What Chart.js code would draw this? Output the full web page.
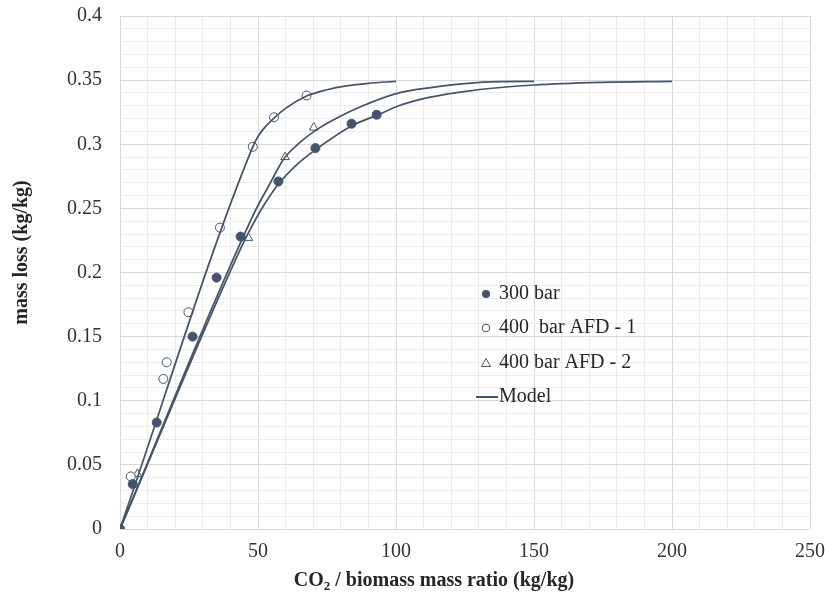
<!DOCTYPE html>
<html>
<head>
<meta charset="utf-8">
<script src="https://cdn.jsdelivr.net/npm/chart.js@4.4.1/dist/chart.umd.min.js"></script>
<style>
    body { margin: 0; background: #fff; }
    #wrap { width: 825px; height: 603px; position: relative; }
</style>
</head>
<body>
<div id="wrap"><canvas id="chart"></canvas></div>
<script>
// measured points
const x300 = [0, 4.6, 13.3, 26.3, 35.0, 43.7, 57.4, 70.8, 83.9, 93];
const y300 = [0, 0.035, 0.083, 0.150, 0.196, 0.228, 0.271, 0.297, 0.316, 0.323];

const xAfd1 = [0, 3.9, 15.7, 16.9, 24.8, 36.2, 48.1, 55.8, 67.6];
const yAfd1 = [0, 0.041, 0.117, 0.130, 0.169, 0.235, 0.298, 0.321, 0.338];

const xAfd2 = [0, 6.3, 46.5, 59.8, 70.2];
const yAfd2 = [0, 0.043, 0.227, 0.290, 0.313];

// model curves
const xModelA = [0, 48.1, 50, 52, 55.6, 60, 67.6, 75, 82, 90, 100];
const yModelA = [0, 0.298, 0.306, 0.312, 0.320, 0.328, 0.3376, 0.3425, 0.3455, 0.3475, 0.349];

const xModelB = [0, 48.3, 54, 59.5, 65, 71, 80, 88, 101, 112, 126, 138, 150];
const yModelB = [0, 0.245, 0.268, 0.289, 0.301, 0.311, 0.322, 0.330, 0.340, 0.344, 0.3475, 0.3488, 0.349];

const xModelC = [0, 44, 48, 52, 57.4, 64, 71, 84, 93, 101, 112, 126, 150, 174, 200];
const yModelC = [0, 0.220, 0.237, 0.252, 0.269, 0.284, 0.296, 0.3145, 0.3225, 0.330, 0.3365, 0.3415, 0.3462, 0.3483, 0.349];

const legendLabels = ['300 bar', '400  bar AFD - 1', '400 bar AFD - 2', 'Model'];
const xTicks = [0, 50, 100, 150, 200, 250];
const yTicks = [0, 0.05, 0.1, 0.15, 0.2, 0.25, 0.3, 0.35, 0.4];

const ink = '#44546A';
const serif = '"Liberation Serif", "Times New Roman", serif';

function pts(xs, ys) {
    return xs.map((x, i) => ({ x: x, y: ys[i] }));
}

function modelSet(xs, ys) {
    return {
        label: 'Model',
        data: pts(xs, ys),
        showLine: true,
        borderColor: ink,
        borderWidth: 1.75,
        pointRadius: 0,
        cubicInterpolationMode: 'monotone',
        fill: false
    };
}

// axis titles and the legend sit inside/around the plot, so draw them by hand
const overlay = {
    id: 'overlay',
    afterDraw(chart) {
        const ctx = chart.ctx;
        const area = chart.chartArea;
        ctx.save();
        ctx.fillStyle = '#262626';
        ctx.textBaseline = 'middle';

        // x title with subscript 2
        const ty = area.bottom + 52;
        ctx.font = 'bold 20px ' + serif;
        const partA = 'CO', partB = ' / biomass mass ratio (kg/kg)';
        const wA = ctx.measureText(partA).width;
        const wB = ctx.measureText(partB).width;
        ctx.font = 'bold 13px ' + serif;
        const wSub = ctx.measureText('2').width;
        const sx = area.left + 314 - (wA + wSub + wB) / 2;
        ctx.textAlign = 'left';
        ctx.font = 'bold 20px ' + serif;
        ctx.fillText(partA, sx, ty);
        ctx.font = 'bold 13px ' + serif;
        ctx.fillText('2', sx + wA, ty + 6);
        ctx.font = 'bold 20px ' + serif;
        ctx.fillText(partB, sx + wA + wSub, ty);

        // y title
        ctx.save();
        ctx.translate(22, (area.top + area.bottom) / 2 - 20);
        ctx.rotate(-Math.PI / 2);
        ctx.textAlign = 'center';
        ctx.fillText('mass loss (kg/kg)', 0, 0);
        ctx.restore();

        // legend
        const lx = area.left + 366;
        const rows = [area.top + 278, area.top + 312, area.top + 347, area.top + 381];
        ctx.font = '20px ' + serif;
        ctx.textAlign = 'left';
        legendLabels.forEach((txt, i) => {
            const y = rows[i];
            ctx.strokeStyle = ink;
            ctx.lineWidth = 1;
            if (i === 0) {
                ctx.fillStyle = ink;
                ctx.beginPath(); ctx.arc(lx, y, 4, 0, Math.PI * 2); ctx.fill();
            } else if (i === 1) {
                ctx.fillStyle = '#fff';
                ctx.beginPath(); ctx.arc(lx, y, 3.8, 0, Math.PI * 2); ctx.fill(); ctx.stroke();
            } else if (i === 2) {
                ctx.fillStyle = '#fff';
                ctx.beginPath();
                ctx.moveTo(lx, y - 4.5); ctx.lineTo(lx + 4.5, y + 3.5); ctx.lineTo(lx - 4.5, y + 3.5);
                ctx.closePath(); ctx.fill(); ctx.stroke();
            } else {
                ctx.lineWidth = 2;
                ctx.beginPath(); ctx.moveTo(lx - 10, y); ctx.lineTo(lx + 12, y); ctx.stroke();
            }
            ctx.fillStyle = '#262626';
            ctx.fillText(txt, lx + 13, y);
        });
        ctx.restore();
    }
};

new Chart(document.getElementById('chart'), {
    type: 'scatter',
    data: {
        datasets: [
            modelSet(xModelA, yModelA),
            modelSet(xModelB, yModelB),
            modelSet(xModelC, yModelC),
            {
                label: legendLabels[0],
                data: pts(x300, y300),
                pointStyle: 'circle',
                pointRadius: 4.5,
                backgroundColor: ink,
                borderColor: ink,
                borderWidth: 1
            },
            {
                label: legendLabels[1],
                data: pts(xAfd1, yAfd1),
                pointStyle: 'circle',
                pointRadius: 4.5,
                backgroundColor: '#fff',
                borderColor: ink,
                borderWidth: 1
            },
            {
                label: legendLabels[2],
                data: pts(xAfd2, yAfd2),
                pointStyle: 'triangle',
                pointRadius: 5,
                backgroundColor: '#fff',
                borderColor: ink,
                borderWidth: 1
            }
        ]
    },
    options: {
        responsive: true,
        maintainAspectRatio: false,
        animation: false,
        layout: { padding: { top: 16, right: 15, left: 0, bottom: 0 } },
        plugins: {
            legend: { display: false },
            tooltip: { enabled: false }
        },
        scales: {
            x: {
                type: 'linear',
                min: xTicks[0],
                max: xTicks[xTicks.length - 1],
                afterFit: s => { s.height = 74; s.paddingLeft = 0; s.paddingRight = 0; },
                ticks: {
                    stepSize: 10,
                    autoSkip: false,
                    maxRotation: 0,
                    padding: 11,
                    color: '#333',
                    font: { family: serif, size: 20 },
                    callback: v => xTicks.includes(v) ? String(v) : ''
                },
                grid: {
                    drawTicks: false,
                    color: c => (c.tick.value % 50 === 0) ? '#d9d9d9' : '#ececec'
                },
                border: { display: false }
            },
            y: {
                min: yTicks[0],
                max: yTicks[yTicks.length - 1],
                afterFit: s => { s.width = 120; s.paddingTop = 0; s.paddingBottom = 0; },
                ticks: {
                    stepSize: 0.01,
                    autoSkip: false,
                    padding: 18,
                    color: '#333',
                    font: { family: serif, size: 20 },
                    callback: v => {
                        const r = Math.round(v * 100);
                        return r % 5 === 0 ? String(r / 100) : '';
                    }
                },
                grid: {
                    drawTicks: false,
                    color: c => (Math.round(c.tick.value * 100) % 5 === 0) ? '#d9d9d9' : '#ececec'
                },
                border: { display: false }
            }
        }
    },
    plugins: [overlay]
});
</script>
</body>
</html>
